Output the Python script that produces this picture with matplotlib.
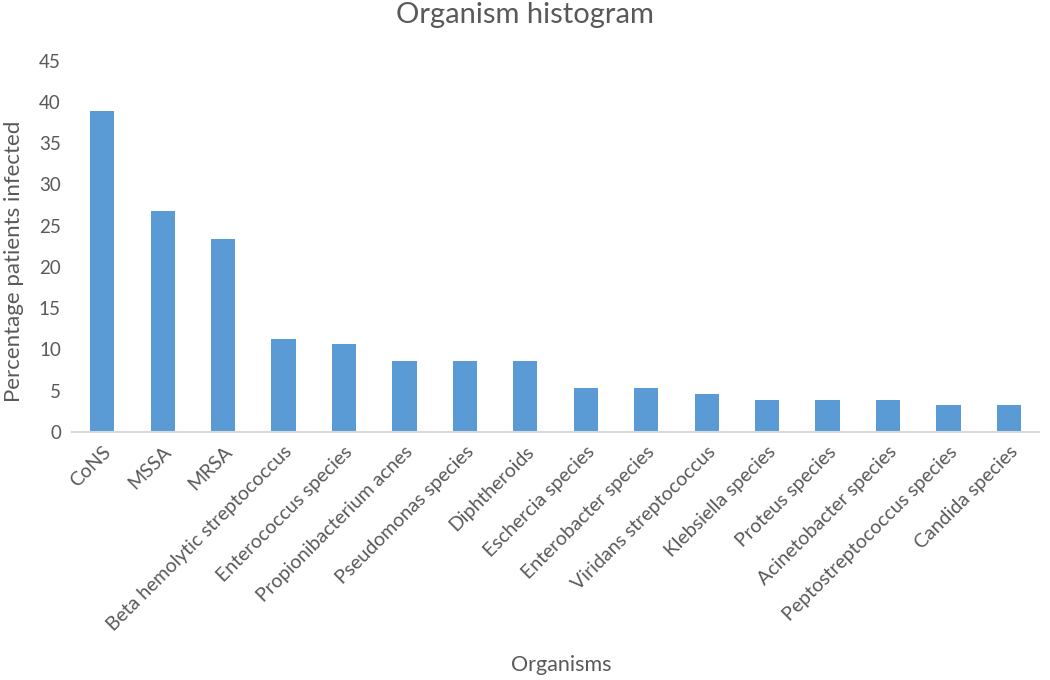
import matplotlib.pyplot as plt

# organism names and percentages
organisms = ['CoNS', 'MSSA', 'MRSA', 'Beta hemolytic streptococcus',
             'Enterococcus species', 'Propionibacterium acnes',
             'Pseudomonas species', 'Diphtheroids', 'Eschercia species',
             'Enterobacter species', 'Viridans streptococcus',
             'Klebsiella species', 'Proteus species', 'Acinetobacter species',
             'Peptostreptococcus species', 'Candida species']
percent = [38.9, 26.8, 23.4, 11.3, 10.6, 8.6, 8.6, 8.6, 5.3, 5.3, 4.6,
           3.9, 3.9, 3.9, 3.2, 3.2]
yticks = list(range(0, 50, 5))

plt.rcParams['font.family'] = ['Lato', 'DejaVu Sans']
text_color = '#595959'

fig = plt.figure(figsize=(10.5, 6.8), dpi=100)
ax = fig.add_axes([0.0686, 0.365, 0.921, 0.546])

x = range(len(organisms))
ax.bar(x, percent, width=0.4, color='#5B9BD5', zorder=2)

ax.set_xlim(-0.5, len(organisms) - 0.5)
ax.set_ylim(0, 45)
ax.set_yticks(yticks)
ax.set_yticklabels([str(t) for t in yticks], fontsize=13.5, color=text_color)
ax.set_xticks(list(x))
ax.set_xticklabels(organisms, rotation=45, ha='right', rotation_mode='anchor',
                   fontsize=14, color=text_color)
ax.tick_params(axis='both', length=0, pad=8)

for side in ['top', 'right', 'left']:
    ax.spines[side].set_visible(False)
ax.spines['bottom'].set_color('#d9d9d9')
ax.spines['bottom'].set_linewidth(1.5)

fig.text(0.5, 0.978, 'Organism histogram', ha='center', va='center',
         fontsize=21, color=text_color)
fig.text(0.535, 0.022, 'Organisms', ha='center', va='center',
         fontsize=15.5, color=text_color)
fig.text(0.013, 0.615, 'Percentage patients infected', ha='center', va='center',
         rotation=90, fontsize=16, color=text_color)

fig.savefig('out.png', dpi=100)
